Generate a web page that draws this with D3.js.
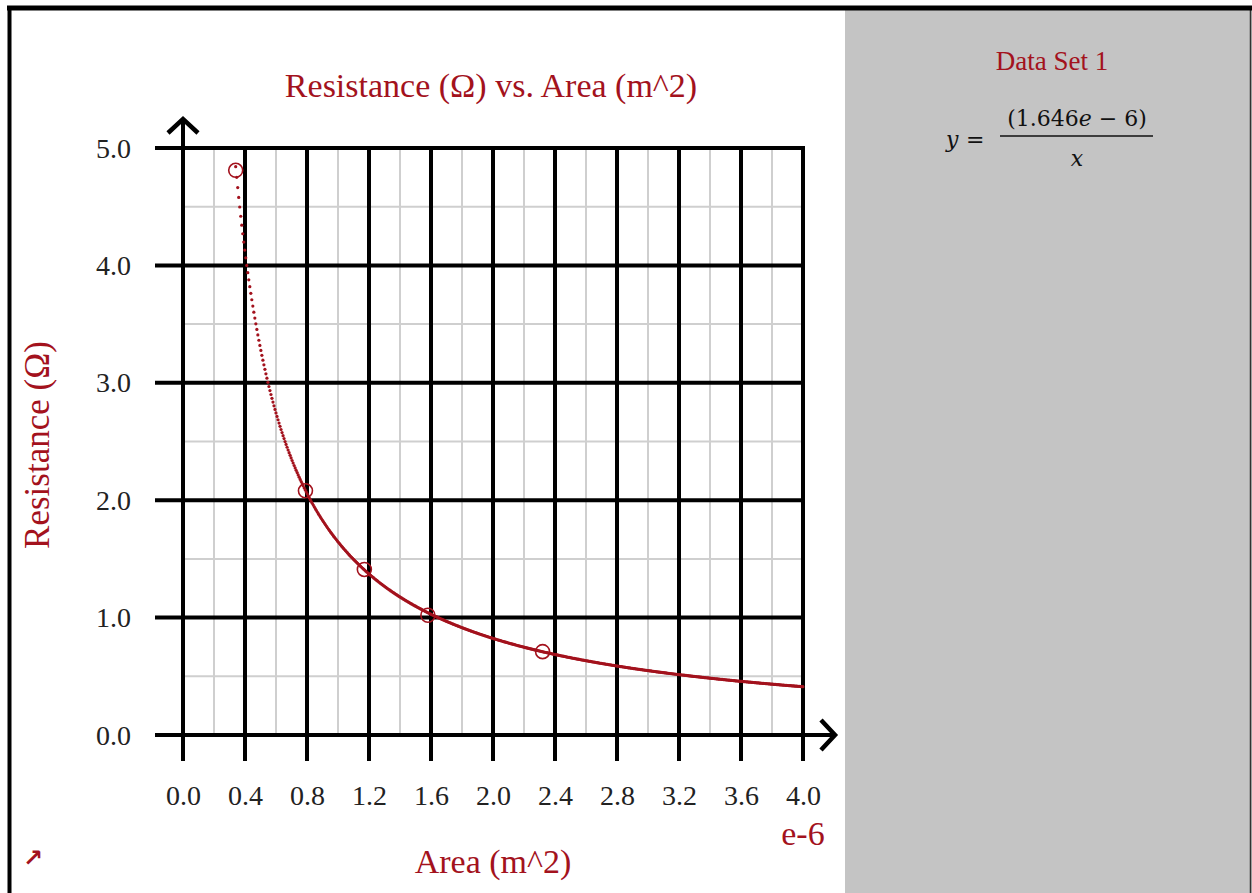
<!DOCTYPE html>
<html>
<head>
<meta charset="utf-8">
<script src="https://cdn.jsdelivr.net/npm/d3@7"></script>
<style>
body { margin: 0; background: #fff; }
text { font-family: "Liberation Serif", "DejaVu Serif", serif; }
text.math { font-family: "DejaVu Serif", serif; }
text.sym { font-family: "DejaVu Sans", sans-serif; }
</style>
</head>
<body>
<div id="chart"></div>
<script>
// measured points, x in units of 1e-6 m^2
var areaVals = [0.34, 0.79, 1.17, 1.58, 2.32];
var resistVals = [4.81, 2.08, 1.41, 1.02, 0.71];
var fitCoef = 1.646; // y = (1.646e-6) / x
var xMajor = [0, 0.4, 0.8, 1.2, 1.6, 2.0, 2.4, 2.8, 3.2, 3.6, 4.0];
var xMinor = [0.2, 0.6, 1.0, 1.4, 1.8, 2.2, 2.6, 3.0, 3.4, 3.8];
var yMajor = [0, 1, 2, 3, 4, 5];
var yMinor = [0.5, 1.5, 2.5, 3.5, 4.5];

var W = 1252, H = 893;
var red = "#a3121d";

var x = d3.scaleLinear().domain([0, 4]).range([183, 803]);
var y = d3.scaleLinear().domain([0, 5]).range([735, 148]);

var svg = d3.select("#chart").append("svg")
	.attr("width", W).attr("height", H);

// side panel
svg.append("rect").attr("x", 845).attr("y", 8).attr("width", W - 845).attr("height", H - 8).attr("fill", "#c4c4c4");
svg.append("line").attr("x1", 1250.5).attr("x2", 1250.5).attr("y1", 8).attr("y2", H).attr("stroke", "#333").attr("stroke-width", 1.5);
// frame
svg.append("line").attr("x1", 7).attr("x2", W).attr("y1", 8).attr("y2", 8).attr("stroke", "#000").attr("stroke-width", 5);
svg.append("line").attr("x1", 9.5).attr("x2", 9.5).attr("y1", 6).attr("y2", H).attr("stroke", "#000").attr("stroke-width", 4);

var gGrid = svg.append("g");
gGrid.selectAll(".vminor").data(xMinor).join("line")
	.attr("x1", d => x(d)).attr("x2", d => x(d))
	.attr("y1", y(5)).attr("y2", y(0))
	.attr("stroke", "#cfcfcf").attr("stroke-width", 2);
gGrid.selectAll(".hminor").data(yMinor).join("line")
	.attr("x1", x(0)).attr("x2", x(4))
	.attr("y1", d => y(d)).attr("y2", d => y(d))
	.attr("stroke", "#cfcfcf").attr("stroke-width", 2);
gGrid.selectAll(".vmajor").data(xMajor).join("line")
	.attr("x1", d => x(d)).attr("x2", d => x(d))
	.attr("y1", d => d === 0 ? 120 : y(5) - 2).attr("y2", y(0) + 26)
	.attr("stroke", "#000").attr("stroke-width", 4);
gGrid.selectAll(".hmajor").data(yMajor).join("line")
	.attr("x1", x(0) - 28).attr("x2", d => d === 0 ? 833 : x(4) + 2)
	.attr("y1", d => y(d)).attr("y2", d => y(d))
	.attr("stroke", "#000").attr("stroke-width", 4);

// axis arrowheads
svg.append("path")
	.attr("d", `M${x(0) - 15},${133} L${x(0)},${119} L${x(0) + 15},${133}`)
	.attr("fill", "none").attr("stroke", "#000").attr("stroke-width", 4.5);
svg.append("path")
	.attr("d", `M${821},${y(0) - 15} L${835},${y(0)} L${821},${y(0) + 15}`)
	.attr("fill", "none").attr("stroke", "#000").attr("stroke-width", 4.5);

// tick labels
var gx = svg.append("g").attr("transform", `translate(0,805)`)
	.call(d3.axisBottom(x).tickValues(xMajor).tickFormat(d3.format(".1f")).tickSize(0).tickPadding(0));
gx.select(".domain").remove();
gx.selectAll("text").attr("font-size", 28).attr("fill", "#222")
	.attr("y", 0).attr("dy", 0);

var gy = svg.append("g").attr("transform", `translate(131,0)`)
	.call(d3.axisLeft(y).tickValues(yMajor).tickFormat(d3.format(".1f")).tickSize(0).tickPadding(0));
gy.select(".domain").remove();
gy.selectAll("text").attr("font-size", 28).attr("fill", "#222").attr("dy", 9);

// fitted curve drawn as fine dots
var step = 0.0065;
var fitX = d3.range(areaVals[0], 4.0001, step);
svg.append("g").attr("fill", red)
	.selectAll("circle").data(fitX).join("circle")
	.attr("cx", d => x(d))
	.attr("cy", d => y(fitCoef / d))
	.attr("r", 1.6);

// data points
svg.append("g").selectAll("circle").data(areaVals).join("circle")
	.attr("cx", d => x(d))
	.attr("cy", (d, i) => y(resistVals[i]))
	.attr("r", 7)
	.attr("fill", "none").attr("stroke", red).attr("stroke-width", 1.6);

// titles
svg.append("text").attr("x", 491).attr("y", 97).attr("text-anchor", "middle")
	.attr("font-size", 34).attr("fill", red).text("Resistance (\u03A9) vs. Area (m^2)");
svg.append("text").attr("x", 493).attr("y", 873).attr("text-anchor", "middle")
	.attr("font-size", 34).attr("fill", red).text("Area (m^2)");
svg.append("text").attr("x", 803).attr("y", 845).attr("text-anchor", "middle")
	.attr("font-size", 34).attr("fill", red).text("e-6");
svg.append("text").attr("transform", "translate(49,445) rotate(-90)").attr("text-anchor", "middle")
	.attr("font-size", 35).attr("fill", red).text("Resistance (\u03A9)");
svg.append("text").attr("class", "sym").attr("x", 33).attr("y", 866).attr("text-anchor", "middle")
	.attr("font-size", 24).attr("font-weight", "bold").attr("fill", red).text("\u2197");

// side panel legend and equation
svg.append("text").attr("x", 1052).attr("y", 70).attr("text-anchor", "middle")
	.attr("font-size", 27).attr("fill", red).text("Data Set 1");
var eq = svg.append("g").attr("fill", "#111").attr("font-size", 22);
eq.append("text").attr("class", "math").attr("x", 946).attr("y", 147).attr("font-style", "italic").text("y");
eq.append("text").attr("class", "math").attr("x", 966).attr("y", 147).text("=");
var num = eq.append("text").attr("class", "math").attr("x", 1077).attr("y", 126).attr("text-anchor", "middle");
num.append("tspan").text("(1.646");
num.append("tspan").attr("font-style", "italic").text("e");
num.append("tspan").text(" \u2212 6)");
eq.append("line").attr("x1", 1000).attr("x2", 1153).attr("y1", 136).attr("y2", 136)
	.attr("stroke", "#111").attr("stroke-width", 1.3);
eq.append("text").attr("class", "math").attr("x", 1077).attr("y", 166).attr("text-anchor", "middle")
	.attr("font-style", "italic").text("x");
</script>
</body>
</html>
